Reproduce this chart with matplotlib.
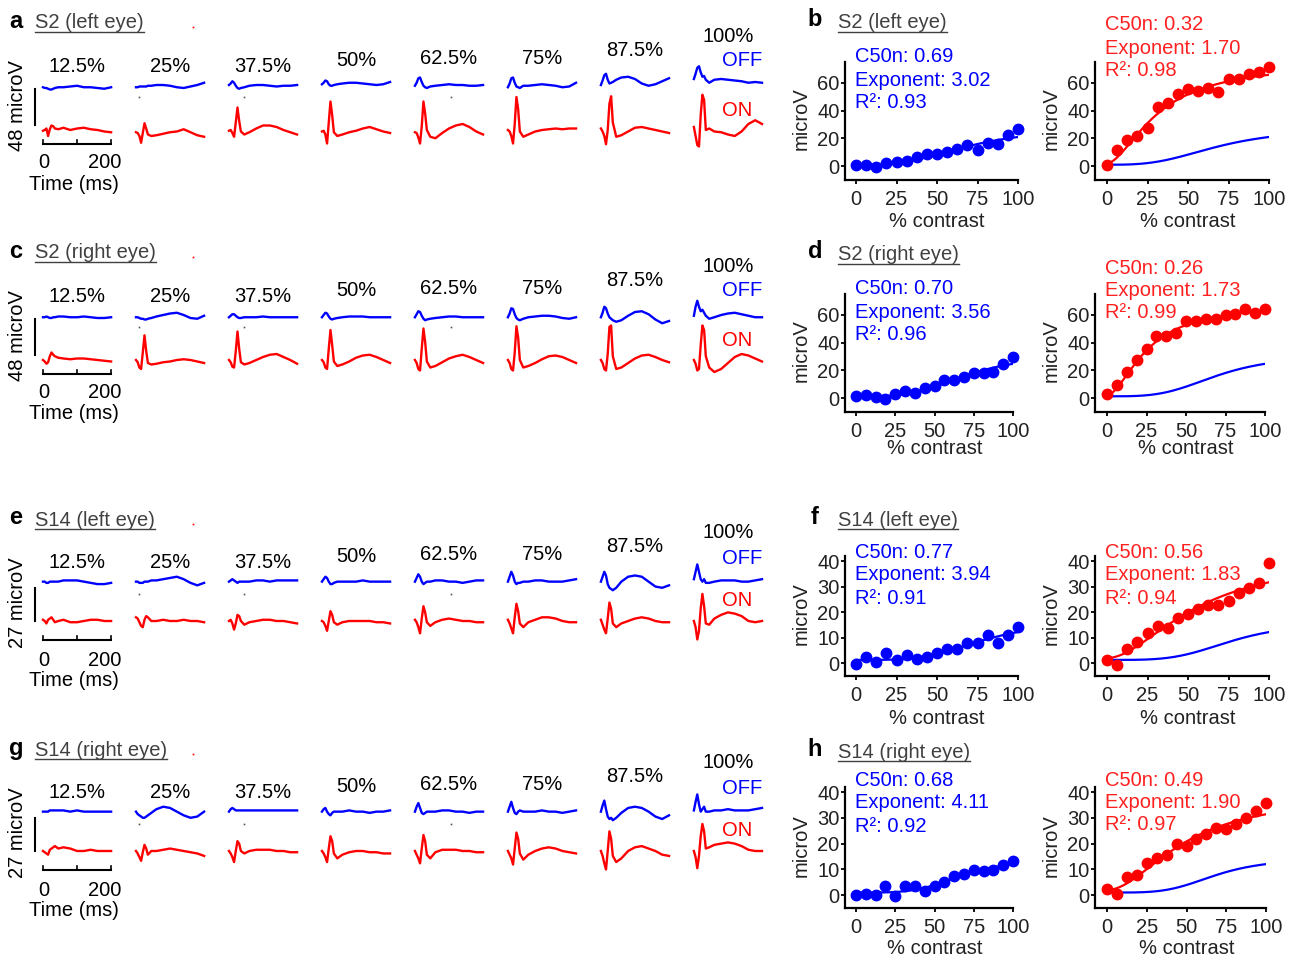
import numpy as np
import matplotlib
matplotlib.use('Agg')
from matplotlib import pyplot as plt
from matplotlib.lines import Line2D

plt.rcParams['font.family'] = ['Liberation Sans', 'DejaVu Sans']

W, H = 1295, 959
BLUE = '#0000ff'
RED = '#ff0000'

# ---------------- VEP traces (microV, relative to trace baseline) ----------------
T_MS = [0, 5, 10, 15, 20, 25, 30, 35, 45, 60, 80, 100, 120, 140, 160, 180, 200]
contrast_labels = ['12.5%', '25%', '37.5%', '50%', '62.5%', '75%', '87.5%', '100%']

a_off = [
    [0, -1, -1, -2, -3, -3, -2, -1, 0, 0, 1, 2, 0, 0, -1, -2, 0],
    [0, 0, 1, 1, 1, 1, 1, 2, 2, 3, 3, 2, 0, -1, 1, 3, 6],
    [3, 5, 8, 6, 2, -1, -2, -1, 0, 2, 3, 3, 2, 1, 2, 2, 3],
    [4, 6, 9, 8, 4, 2, 2, 3, 4, 5, 6, 6, 5, 4, 3, 4, 7],
    [2, 6, 12, 13, 7, 2, 0, -1, 1, 2, 3, 4, 3, 3, 2, 2, 3],
    [0, 5, 12, 13, 6, 1, 0, -1, 2, 2, 3, 4, 3, 2, 0, 1, 6],
    [3, 9, 16, 18, 10, 5, 6, 7, 10, 13, 14, 11, 5, 2, 4, 8, 12],
    [11, 18, 26, 28, 20, 14, 15, 10, 6, 10, 11, 10, 9, 8, 6, 7, 6],
]
a_on = [
    [-1, 0, 2, -8, 1, 6, 5, 2, 1, 3, 0, 2, 3, 1, 0, -2, -3],
    [-3, -4, -8, -17, -4, 9, 2, -6, -8, -7, -5, -3, -2, 1, -3, -7, -9],
    [-1, 0, -4, -9, 10, 30, 12, -2, -6, -3, 2, 6, 6, 4, 0, -3, -6],
    [-2, -1, -6, -18, 10, 38, 20, -3, -8, -6, -3, -1, 2, 4, 1, -2, -4],
    [-3, -4, -10, -18, 5, 38, 22, 0, -9, -11, -4, 2, 6, 8, 4, -2, -6],
    [0, -2, -8, -18, 8, 44, 28, -2, -9, -6, -2, 0, 1, 2, 1, 2, 2],
    [2, -2, -8, -19, 0, 35, 45, 10, -9, -7, -2, 3, 4, 2, 0, -2, -4],
    [4, -8, -20, -22, 20, 47, 40, 0, 2, -2, -3, -6, -8, -2, 8, 13, 8],
]
c_off = [
    [0, 0, 1, 0, -1, -1, 0, 0, 1, 1, 0, 0, 1, 0, -1, -1, 0],
    [0, 0, -1, -2, -2, -3, -3, -2, -1, 1, 3, 5, 6, 3, -1, -2, 2],
    [0, 2, 4, 4, 2, 0, -1, -1, 0, 0, 0, 1, 0, 0, 0, 0, 0],
    [0, 3, 6, 5, 1, -2, -3, -2, -1, 0, 1, 1, 1, 0, 0, 0, 0],
    [0, 4, 8, 7, 2, -2, -4, -3, -2, -1, 0, 1, 1, 0, 0, 0, 0],
    [0, 5, 12, 11, 4, -1, -3, -4, -2, 0, 1, 2, 2, 1, -1, -2, 0],
    [0, 6, 14, 12, 5, 0, -2, -4, -6, -4, 2, 7, 8, 4, -3, -8, -5],
    [2, 14, 22, 14, 8, 10, 6, 2, -2, 0, 3, 5, 6, 4, 2, 0, 0],
]
c_on = [
    [0, -2, -5, -3, 5, 10, 7, 5, 3, 2, 1, 2, 2, 1, 0, -1, -2],
    [0, -3, -10, -12, 10, 33, 12, -4, -6, -5, -3, -2, 0, 1, 0, -2, -4],
    [0, -3, -9, -10, 12, 38, 15, -3, -6, -4, 0, 4, 7, 8, 4, 0, -5],
    [0, -3, -10, -12, 15, 40, 20, -2, -8, -6, -2, 3, 6, 7, 4, 0, -4],
    [0, -4, -12, -14, 15, 42, 24, -2, -10, -8, -3, 2, 5, 7, 4, 0, -4],
    [0, -4, -12, -14, 10, 45, 30, 0, -10, -8, -4, 1, 5, 6, 4, 0, -4],
    [0, -4, -12, -14, 8, 44, 46, 5, -12, -10, -4, 2, 6, 7, 4, 0, -3],
    [0, -5, -14, -12, 20, 46, 40, 5, -10, -16, -12, -4, 4, 8, 6, 2, -2],
]
e_off = [
    [0, 0, -1, -1, 0, 0, 0, 0, 0, 1, 1, 1, 0, -1, -2, -2, -1],
    [0, 0, -1, -1, -1, 0, 0, 0, 1, 1, 2, 3, 4, 2, -1, -3, -1],
    [0, 1, 2, 1, 0, -1, 0, 0, 0, 0, 1, 1, 0, 1, 1, 1, 1],
    [0, 2, 4, 3, 0, -2, -2, -1, 0, 0, 0, 0, 1, 0, 0, 0, 0],
    [0, 3, 6, 4, 0, -2, -1, 0, 0, 1, 1, 0, 0, -1, 0, 1, 1],
    [0, 4, 8, 5, 0, -2, -1, -1, 0, 0, 1, 1, 0, 0, 0, 1, 2],
    [0, 4, 8, 5, -2, -5, -6, -7, -5, 0, 4, 5, 4, 0, -4, -5, -3],
    [2, 8, 14, 8, 2, 0, 2, -1, -1, 0, 1, 1, 1, 0, 0, 1, 2],
]
e_on = [
    [1, 0, -2, 1, 2, 3, 1, -1, 0, 1, -1, -1, 0, 1, 1, 0, 0],
    [3, 2, -1, -4, -5, 1, 4, 3, 0, 0, 1, 0, 0, 1, 0, 0, -1],
    [0, 1, -2, -7, -2, 5, 4, 0, -3, -1, 0, 1, 1, 0, 0, -1, -2],
    [0, -1, -4, -8, 0, 8, 5, -1, -3, -1, 0, 0, 0, 0, -1, -1, -2],
    [1, -1, -5, -10, 2, 12, 7, -1, -4, -1, 1, 2, 1, 0, 0, -1, -1],
    [1, -2, -6, -10, 3, 14, 8, -2, -5, -1, 1, 3, 3, 2, 0, -1, -1],
    [1, -3, -7, -10, 2, 15, 10, -2, -5, -2, 0, 2, 3, 2, 0, -1, -1],
    [0, -5, -15, -8, 10, 22, 12, -2, -3, 2, 5, 7, 6, 4, 0, -1, 0],
]
g_off = [
    [0, 0, 0, 0, 1, 1, 1, 1, 1, 1, 0, 1, 0, 0, 0, 0, 0],
    [0, -2, -3, -4, -5, -5, -4, -3, -1, 2, 4, 3, 0, -3, -5, -4, 0],
    [0, 2, 3, 2, 1, 1, 1, 1, 1, 1, 1, 1, 1, 1, 1, 1, 1],
    [0, 2, 3, 0, -2, -3, -1, 0, 0, 0, 1, 0, 0, -1, 0, 0, 1],
    [0, 4, 7, 3, -1, -2, -1, 0, 0, 0, 1, 1, 0, 0, -1, 0, 0],
    [0, 4, 8, 3, -1, -2, 0, 1, 0, 0, 0, 1, 0, 0, -1, 0, 1],
    [0, 5, 9, 2, -4, -6, -5, -7, -5, -1, 3, 4, 3, 0, -4, -6, -3],
    [1, 8, 14, 6, 0, 2, 4, 0, 0, 1, 1, 2, 1, 1, 1, 2, 3],
]
g_on = [
    [0, -1, -2, -3, 1, 2, 3, 4, 2, 3, 2, 0, 0, 1, 0, 0, 0],
    [0, -2, -5, -8, -1, 5, 2, -3, 0, 0, 1, 2, 1, 0, -1, -2, -4],
    [0, -2, -5, -9, 0, 8, 6, 0, -2, 0, 1, 1, 1, 0, 0, -1, -1],
    [0, -2, -5, -9, 2, 12, 8, -2, -6, -3, -1, 0, 0, -1, -1, -2, -2],
    [0, -3, -6, -10, 2, 13, 8, -3, -6, -1, 1, 1, 1, 0, 0, -1, -1],
    [0, -3, -6, -11, 2, 15, 10, -2, -7, -3, 0, 2, 3, 2, 0, -1, -2],
    [0, -4, -10, -15, 0, 16, 10, -4, -9, -6, 0, 3, 4, 2, 0, -3, -4],
    [0, -5, -14, -4, 12, 22, 16, 2, 3, 5, 6, 7, 6, 4, 1, 0, 0],
]

# ---------------- contrast response (microV) ----------------
contrast = [0, 6.25, 12.5, 18.75, 25, 31.25, 37.5, 43.75, 50,
            56.25, 62.5, 68.75, 75, 81.25, 87.5, 93.75, 100]

b_off = [0.7, 1, -0.5, 2, 3, 3.4, 6.7, 8.6, 8.6, 10.5, 12, 15.3, 11.5, 16.8, 15.8, 22.5, 26.4]
b_on = [0.5, 11.5, 18.7, 21.6, 27.8, 42.7, 45.6, 51.8, 55.6, 54.2, 56, 53.7, 62.8, 62.8, 66.7, 67.6, 71.5]
d_off = [1.2, 2.5, 0.7, -0.5, 2.9, 4.9, 3.7, 7.6, 9, 13, 13, 15, 17.9, 17.9, 19, 24.3, 29.7]
d_on = [3.2, 9.8, 19.1, 27.2, 35.5, 44.6, 44.6, 46.8, 55.6, 55.6, 57.1, 57.1, 59.6, 60.5, 64, 61, 64]
f_off = [-0.3, 2.6, 0.3, 3.9, 1.3, 3.3, 1.8, 2.6, 3.9, 5.7, 5.7, 7.8, 7.8, 11.1, 8.1, 11.1, 14.3]
f_on = [1.3, -0.8, 5.5, 8.3, 11.7, 14.6, 13.8, 17.6, 19.3, 21.1, 22.7, 22.7, 24.5, 27.4, 29.4, 31.3, 39.1]
h_off = [0, 0.6, -0.1, 3.7, -0.3, 3.5, 3.7, 1.7, 3.5, 5, 7.4, 8.1, 9.9, 9.2, 9.7, 11.7, 13.3]
h_on = [2.2, 0.4, 7.1, 7.9, 12.5, 14.5, 15.6, 19.7, 19.2, 21.8, 23.6, 25.9, 25.6, 27.5, 30, 32.6, 35.9]

# Naka-Rushton fits: (C50n, exponent, R2, Rmax, baseline)
b_off_fit = (0.69, 3.02, 0.93, 26.5, 1.0)
b_on_fit = (0.32, 1.70, 0.98, 73.0, 2.0)
d_off_fit = (0.70, 3.56, 0.96, 30.0, 1.3)
d_on_fit = (0.26, 1.73, 0.99, 67.0, 2.0)
f_off_fit = (0.77, 3.94, 0.91, 14.8, 1.3)
f_on_fit = (0.56, 1.83, 0.94, 40.0, 2.0)
h_off_fit = (0.68, 4.11, 0.92, 13.3, 1.0)
h_on_fit = (0.49, 1.90, 0.97, 37.0, 2.0)


def box(l, t, r, b):
    return [l / W, 1 - b / H, (r - l) / W, (b - t) / H]


def ptext(x, y, s, **kw):
    kw.setdefault('ha', 'center')
    kw.setdefault('va', 'center')
    kw.setdefault('fontsize', 14.5)
    return fig.text(x / W, 1 - y / H, s, **kw)


def naka_rushton(c, fit):
    c50, n, _, rmax, base = fit
    c = np.asarray(c) / 100.0
    return rmax * c ** n / (c ** n + c50 ** n) + base


fig = plt.figure(figsize=(W / 100, H / 100), dpi=100)

# ---------------- left column: traces ----------------
PX_MS = 0.3406   # px per ms
GAP = 273        # ms between contrast columns
X0 = 43          # px of t=0 in first column
label_y = [66, 66, 66, 60, 58, 58, 50, 36]

trace_rows = [
    ('a', 'S2 (left eye)', 0, 130, 0.75, 57, 48, 6.7, -18.7, 110, a_off, a_on),
    ('c', 'S2 (right eye)', 230, 360, 0.75, 57, 48, 6.7, -18.7, 340, c_off, c_on),
    ('e', 'S14 (left eye)', 497, 621, 1.23, 32, 27, 0.0, -15.4, 600, e_off, e_on),
    ('g', 'S14 (right eye)', 727, 851, 1.23, 32, 27, 0.0, -15.4, 831, g_off, g_on),
]
titles = []
for letter, title, dy, r0, s, off_shift, bar, bar_lo, t_axis, on_y, offs, ons in trace_rows:
    ax = fig.add_axes(box(20, r0 - 110, 775, r0 + 30))
    ax.set_xlim((20 - X0) / PX_MS, (775 - X0) / PX_MS)
    ax.set_ylim(-30 / s, 110 / s)
    ax.axis('off')
    t = np.array(T_MS)
    for k in range(8):
        ax.plot(t + k * GAP, np.array(offs[k]) + off_shift, color=BLUE, lw=1.7)
        ax.plot(t + k * GAP, ons[k], color=RED, lw=1.7)
        ptext(X0 + 34 + k * 93, label_y[k] + dy, contrast_labels[k])
    # scale bar and time axis
    xb = (35 - X0) / PX_MS
    ax.plot([xb, xb], [bar_lo, bar_lo + bar], color='k', lw=1.5, clip_on=False)
    ax.plot([0, 200], [t_axis, t_axis], color='k', lw=1.5, clip_on=False)
    for tk in (0, 100, 200):
        ax.plot([tk, tk], [t_axis, t_axis + 4 / s], color='k', lw=1.2, clip_on=False)
    # stray dots
    ax.plot([(139 - X0) / PX_MS, (244 - X0) / PX_MS, (451 - X0) / PX_MS],
            [(r0 - 97 - dy) / s] * 3, 's', ms=1.2, color='#555555', mec='none')
    ax.plot([(193 - X0) / PX_MS], [(r0 - 27 - dy) / s], 's', ms=1.2,
            color=RED, mec='none', clip_on=False)

    ptext(722, 61 + dy, 'OFF', color=BLUE, ha='left')
    ptext(722, on_y, 'ON', color=RED, ha='left')
    ptext(18, 106 + dy, f'{bar} microV', rotation=90)
    ptext(44, 163 + dy, '0')
    ptext(105, 163 + dy, '200')
    ptext(74, 184 + dy, 'Time (ms)')
    ptext(16, 21 + dy, letter, fontsize=17, fontweight='bold')
    titles.append(ptext(35, 23 + dy, title, ha='left', color='#404040', fontsize=14.5))

# ---------------- right column: contrast response ----------------
resp_rows = [
    ('b', 'S2 (left eye)', 20, 62, 180, (-10, 75), [0, 20, 40, 60],
     (1018, 1269), b_off, b_on, b_off_fit, b_on_fit, [57, 80, 103], [25, 48, 71], 222),
    ('d', 'S2 (right eye)', 252, 294, 412, (-10, 75), [0, 20, 40, 60],
     (1013, 1265), d_off, d_on, d_off_fit, d_on_fit, [289, 312, 335], [268, 290, 312], 448),
    ('f', 'S14 (left eye)', 517, 556, 676, (-5, 42), [0, 10, 20, 30, 40],
     (1018, 1269), f_off, f_on, f_off_fit, f_on_fit, [553, 575, 598], [553, 575, 598], 718),
    ('h', 'S14 (right eye)', 749, 787, 908, (-5, 42), [0, 10, 20, 30, 40],
     (1013, 1266), h_off, h_on, h_off_fit, h_on_fit, [780, 803, 827], [780, 802, 825], 948),
]
cc = np.linspace(0, 100, 200)
for letter, title, ty, top, bot, ylim, yticks, (x100l, x100r), off, on, off_fit, on_fit, \
        yb, yr, xl_y in resp_rows:
    ptext(815, ty, letter, fontsize=17, fontweight='bold')
    titles.append(ptext(838, ty + 3, title, ha='left', color='#404040'))
    for side, left, zero, x100 in (('off', 845, 856, x100l), ('on', 1095, 1107, x100r)):
        sc = (x100 - zero) / 100.0
        ax = fig.add_axes(box(left, top, x100, bot))
        ax.set_xlim(-(zero - left) / sc, 100)
        ax.set_ylim(*ylim)
        for sp in ('top', 'right'):
            ax.spines[sp].set_visible(False)
        for sp in ('left', 'bottom'):
            ax.spines[sp].set_linewidth(1.6)
        ax.set_xticks([0, 25, 50, 75, 100])
        ax.set_yticks(yticks)
        ax.tick_params(axis='both', labelsize=14.5, length=3, width=1.3,
                       labelcolor='#222222')
        ax.tick_params(axis='y', pad=1)
        ax.tick_params(axis='x', pad=4)
        if side == 'off':
            ax.plot(contrast, off, 'o', ms=7.5, color=BLUE, clip_on=False, zorder=3)
            ax.plot(cc, naka_rushton(cc, off_fit), color=BLUE, lw=1.6)
            fit, col, ys, xt = off_fit, BLUE, yb, 855
        else:
            ax.plot(contrast, on, 'o', ms=7.5, color=RED, clip_on=False, zorder=3)
            ax.plot(cc, naka_rushton(cc, on_fit), color=RED, lw=1.6)
            ax.plot(cc, naka_rushton(cc, off_fit), color=BLUE, lw=1.6)
            fit, col, ys, xt = on_fit, '#ff2020', yr, 1105
        ptext(xt, ys[0], f'C50n: {fit[0]:.2f}', ha='left', color=col)
        ptext(xt, ys[1], f'Exponent: {fit[1]:.2f}', ha='left', color=col)
        ptext(xt, ys[2], f'R\u00b2: {fit[2]:.2f}', ha='left', color=col)
        ptext(left - 44, (top + bot) / 2 - 2, 'microV', rotation=90, color='#222222')
        ptext((zero + x100) / 2, xl_y, '% contrast', color='#222222')

# underline the panel titles
fig.canvas.draw()
for txt in titles:
    bb = txt.get_window_extent()
    yline = (bb.y0 + 1) / H
    fig.add_artist(Line2D([bb.x0 / W, bb.x1 / W], [yline, yline],
                          color='#404040', lw=1.0))

fig.savefig('out.png', dpi=100)
